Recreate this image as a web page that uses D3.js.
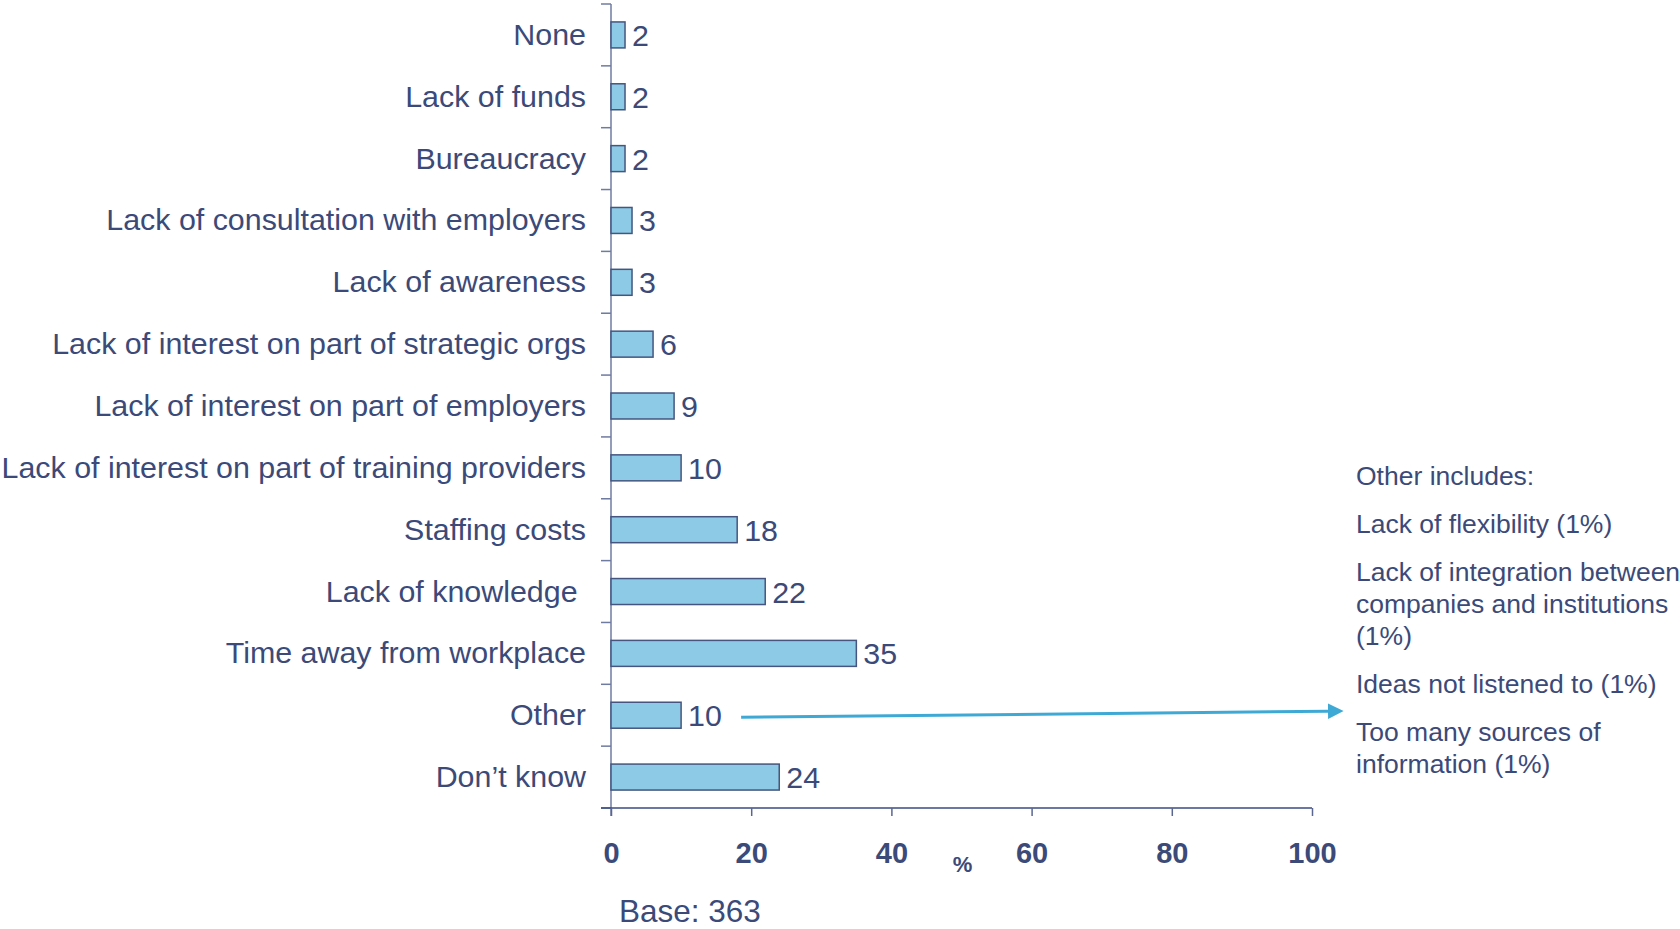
<!DOCTYPE html>
<html>
<head>
<meta charset="utf-8">
<script src="https://cdn.jsdelivr.net/npm/d3@7"></script>
<style>
  html, body { margin: 0; padding: 0; background: #ffffff; }
  svg { display: block; }
  text { font-family: "Liberation Sans", Arial, sans-serif; fill: #3b4a78; }
</style>
</head>
<body>
<script>
// Reported barriers, % of respondents
const categories = [
  "None",
  "Lack of funds",
  "Bureaucracy",
  "Lack of consultation with employers",
  "Lack of awareness",
  "Lack of interest on part of strategic orgs",
  "Lack of interest on part of employers",
  "Lack of interest on part of training providers",
  "Staffing costs",
  "Lack of knowledge ",
  "Time away from workplace",
  "Other",
  "Don\u2019t know"
];
const values = [2, 2, 2, 3, 3, 6, 9, 10, 18, 22, 35, 10, 24];
const xTicks = [0, 20, 40, 60, 80, 100];
const axisUnit = "%";
const baseNote = "Base: 363";
const otherCategory = "Other";
const otherNotes = [
  ["Other includes:"],
  ["Lack of flexibility (1%)"],
  ["Lack of integration between", "companies and institutions", "(1%)"],
  ["Ideas not listened to (1%)"],
  ["Too many sources of", "information (1%)"]
];

const W = 1680, H = 929;
const svg = d3.select("body").append("svg").attr("width", W).attr("height", H);

const x = d3.scaleLinear().domain([0, 100]).range([611, 1312]);
const y = d3.scaleBand().domain(categories).range([4, 808])
  .paddingInner(0.58).paddingOuter(0.29);
const pad = (y.step() - y.bandwidth()) / 2;

// category axis: vertical line with ticks between categories
const yAxis = svg.append("g");
yAxis.append("line")
  .attr("x1", x(0)).attr("x2", x(0))
  .attr("y1", y.range()[0]).attr("y2", y.range()[1] + 8)
  .attr("stroke", "#6f7ba0").attr("stroke-width", 1.5);
const bounds = categories.map(c => y(c) - pad).concat([y.range()[1]]);
yAxis.selectAll("line.sep").data(bounds).join("line")
  .attr("class", "sep")
  .attr("x1", x(0) - 10).attr("x2", x(0))
  .attr("y1", d => d).attr("y2", d => d)
  .attr("stroke", "#6f7ba0").attr("stroke-width", 1.5);

// category labels
svg.append("g").selectAll("text").data(categories).join("text")
  .attr("x", x(0) - 25)
  .attr("y", d => y(d) + y.bandwidth() / 2 + 10)
  .attr("text-anchor", "end")
  .style("white-space", "pre")
  .attr("font-size", 30.4)
  .text(d => d);

// value axis
const xAxis = svg.append("g").attr("transform", `translate(0,${y.range()[1]})`)
  .call(d3.axisBottom(x).tickValues(xTicks).tickSize(8).tickSizeOuter(0));
xAxis.select(".domain").attr("stroke", "#3a4c80").attr("stroke-width", 1.5)
  .attr("d", `M${x(0) - 10},0H${x(100)}`);
xAxis.selectAll(".tick line").attr("stroke", "#5a6690").attr("stroke-width", 1.5);
xAxis.selectAll(".tick text")
  .attr("y", 55).attr("dy", 0)
  .attr("font-size", 29).attr("font-weight", "bold")
  .attr("font-family", "'Liberation Sans', Arial, sans-serif")
  .attr("fill", "#3b4a78");

svg.append("text")
  .attr("x", (x(40) + x(60)) / 2 + 1).attr("y", 872)
  .attr("text-anchor", "middle")
  .attr("font-size", 22).attr("font-weight", "bold")
  .text(axisUnit);

svg.append("text")
  .attr("x", 619).attr("y", 922)
  .attr("font-size", 31.5)
  .text(baseNote);

// bars
const rows = categories.map((c, i) => ({ c, v: values[i] }));
svg.append("g").selectAll("rect").data(rows).join("rect")
  .attr("x", x(0))
  .attr("y", d => y(d.c))
  .attr("width", d => x(d.v) - x(0))
  .attr("height", y.bandwidth())
  .attr("fill", "#8dcae5")
  .attr("stroke", "#45557f")
  .attr("stroke-width", 1.5);

// value labels
svg.append("g").selectAll("text").data(rows).join("text")
  .attr("x", d => x(d.v) + 7)
  .attr("y", d => y(d.c) + y.bandwidth() / 2 + 11)
  .attr("font-size", 30.4)
  .text(d => d.v);

// callout arrow from "Other" to its breakdown
const oi = categories.indexOf(otherCategory);
const ax0 = x(values[oi]) + 60, ay0 = y(otherCategory) + y.bandwidth() / 2 + 2;
const ax1 = 1328, ay1 = ay0 - 6;
svg.append("defs").append("marker")
  .attr("id", "head").attr("viewBox", "0 0 10 10")
  .attr("refX", 0).attr("refY", 5)
  .attr("markerWidth", 5.2).attr("markerHeight", 5.2)
  .attr("markerUnits", "strokeWidth").attr("orient", "auto")
  .append("path").attr("d", "M0,0L10,5L0,10Z").attr("fill", "#3fa9d5");
svg.append("line")
  .attr("x1", ax0).attr("y1", ay0).attr("x2", ax1).attr("y2", ay1)
  .attr("stroke", "#3fa9d5").attr("stroke-width", 3)
  .attr("marker-end", "url(#head)");

// breakdown notes
const noteX = 1356, lineH = 32, paraGap = 48;
let ny = 485;
const notes = svg.append("g");
otherNotes.forEach(par => {
  par.forEach((line, j) => {
    notes.append("text")
      .attr("x", noteX).attr("y", ny + j * lineH)
      .attr("font-size", 26.5)
      .text(line);
  });
  ny += (par.length - 1) * lineH + paraGap;
});
</script>
</body>
</html>
